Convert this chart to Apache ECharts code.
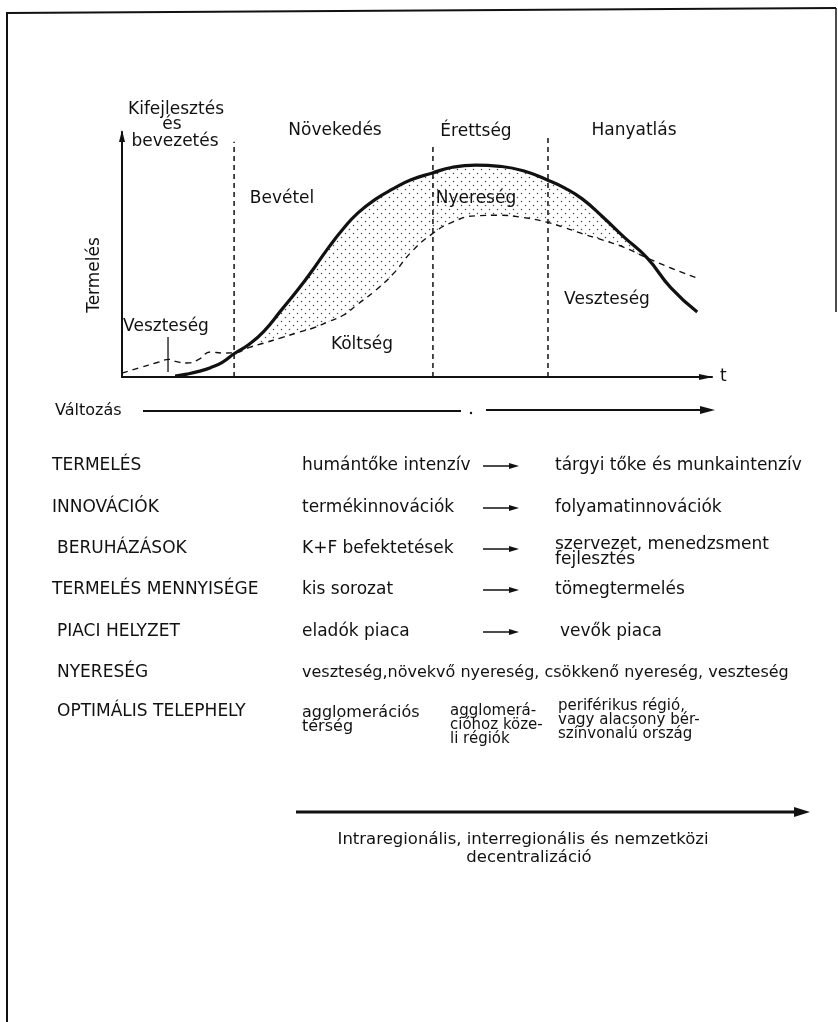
<!DOCTYPE html>
<html><head><meta charset="utf-8">
<script src="https://cdn.jsdelivr.net/npm/echarts@6/dist/echarts.min.js"></script>
<style>html,body{margin:0;padding:0;background:#fff}#c{width:838px;height:1022px}</style>
</head><body><div id="c"></div>
<script>
// ---- data (time in % of life cycle, values in % of chart height) ----
const timeX   = [0, 3, 6, 8, 9, 11, 13, 15, 17, 19, 21.5, 24, 27, 30, 32.5, 35, 37.5, 40, 43, 46, 49, 52.5, 56, 60, 64, 68, 72, 75, 78, 81.5, 85, 89, 93, 97.5];
const revenue = [null, null, null, null, 0.4, 1.2, 2.3, 3.8, 6.0, 9.5, 13.3, 18.5, 27.3, 36.2, 44.3, 52.8, 60.5, 67.0, 72.6, 76.9, 80.5, 83.2, 85.6, 86.5, 86.0, 84.2, 80.5, 77.2, 72.7, 65.3, 57.3, 48.6, 36.5, 26.5];
const cost    = [1.6, 3.8, 5.9, 7.2, 6.4, 5.7, 7.2, 10.2, 9.8, 9.9, 12.0, 13.8, 16.0, 18.3, 20.1, 22.6, 25.2, 29.8, 35.4, 42.2, 50.9, 58.3, 63.2, 65.8, 66.0, 65.1, 63.2, 61.0, 58.5, 55.9, 53.0, 48.6, 44.5, 40.4];
const phaseBounds = [19.0, 52.7, 72.2];
const phaseTops   = [96, 95.5, 98];
const lossTick    = [7.8, 2, 16.3];
const profitSpan  = [17, 93];   // time range handed to the dotted profit band

const phaseNames = ['Kifejlesztés\nés\nbevezetés', 'Növekedés', 'Érettség', 'Hanyatlás'];
const curveLabels = ['Bevétel', 'Nyereség', 'Költség', 'Veszteség', 'Veszteség'];
const yName = 'Termelés';
const xName = 't';
const changeLabel = 'Változás';

const rowLabels = ['TERMELÉS', 'INNOVÁCIÓK', 'BERUHÁZÁSOK', 'TERMELÉS MENNYISÉGE', 'PIACI HELYZET', 'NYERESÉG', 'OPTIMÁLIS TELEPHELY'];
const fromTexts = ['humántőke intenzív', 'termékinnovációk', 'K+F befektetések', 'kis sorozat', 'eladók piaca', 'veszteség,növekvő nyereség, csökkenő nyereség, veszteség', 'agglomerációs\ntérség'];
const toTexts   = ['tárgyi tőke és munkaintenzív', 'folyamatinnovációk', 'szervezet, menedzsment\nfejlesztés', 'tömegtermelés', 'vevők piaca', '', 'periférikus régió,\nvagy alacsony bér-\nszínvonalú ország'];
const midTexts  = ['', '', '', '', '', '', 'agglomerá-\ncióhoz köze-\nli régiók'];
const decentrText = 'Intraregionális, interregionális és nemzetközi\ndecentralizáció';

// ---- rendering ----
const INK = '#111';
const FONT = '"DejaVu Sans", sans-serif';

const pat = document.createElement('canvas');
pat.width = 8; pat.height = 8;
(function () {
  const c = pat.getContext('2d');
  c.fillStyle = '#fff'; c.fillRect(0, 0, 8, 8);
  c.fillStyle = '#444';
  c.beginPath(); c.arc(1.5, 1.5, 0.75, 0, Math.PI * 2); c.fill();
  c.beginPath(); c.arc(5.5, 5.5, 0.75, 0, Math.PI * 2); c.fill();
})();

function T(x, y, text, size, align, extra) {
  const lines = text.split('\n');
  const lh = (extra && extra.lh) || 15;
  return lines.map((ln, i) => Object.assign({
    type: 'text', x: x, y: y + i * lh, silent: true, z: 100,
    style: { text: ln, font: (size || 17) + 'px ' + FONT, fill: INK,
      align: align || 'left', verticalAlign: 'middle',
      textAlign: align || 'left', textVerticalAlign: 'middle' }
  }, extra && extra.el ? extra.el : {}));
}
function L(x1, y1, x2, y2, w) {
  return { type: 'line', silent: true, z: 100, shape: { x1, y1, x2, y2 }, style: { stroke: INK, lineWidth: w || 2 } };
}
function head(xTip, y, len, half) {
  return { type: 'polygon', silent: true, z: 100, shape: { points: [[xTip - len, y - half], [xTip, y], [xTip - len, y + half]] }, style: { fill: INK } };
}

let g = [];
// frame
g.push(L(7, 13, 836, 8, 2), L(7, 12, 7, 1022, 2), L(836, 8, 836, 312, 1.5));
// phase names
const pn = phaseNames[0].split('\n');
g = g.concat(T(176, 110, pn[0], 17, 'center'));
g = g.concat(T(172, 125, pn[1], 17, 'center'));
g = g.concat(T(175, 142, pn[2], 17, 'center'));
g = g.concat(T(335, 131, phaseNames[1], 17, 'center'));
g = g.concat(T(476, 132, phaseNames[2], 17, 'center'));
g = g.concat(T(634, 131, phaseNames[3], 17, 'center'));
// curve labels
g = g.concat(T(282, 199, curveLabels[0], 17, 'center'));
g = g.concat(T(476, 199, curveLabels[1], 17, 'center'));
g = g.concat(T(362, 345, curveLabels[2], 17, 'center'));
g = g.concat(T(607, 300, curveLabels[3], 17, 'center'));
g = g.concat(T(166, 327, curveLabels[4], 17, 'center'));
// y name (rotated)
g = g.concat(T(95, 275, yName, 17, 'center', { el: { rotation: Math.PI / 2 } }));
// Változás arrow
g = g.concat(T(55, 411, changeLabel, 16, 'left'));
g.push(L(143, 411, 461, 411, 2), L(486, 410, 704, 410, 2), head(715, 410, 15, 4));
g.push({ type: 'circle', silent: true, z: 100, shape: { cx: 471, cy: 413, r: 1.2 }, style: { fill: INK } });
// table
const rowY = [466, 508, 549, 590, 632, 673, 712];
const rowX = [52, 52, 57, 52, 57, 57, 57];
const colMid = 302;
rowLabels.forEach((s, i) => {
  g = g.concat(T(rowX[i], rowY[i], s, 17, 'left'));
  if (i < 5) g = g.concat(T(colMid, rowY[i], fromTexts[i], 17, 'left'));
  if (i === 5) g = g.concat(T(colMid, rowY[i], fromTexts[i], 16, 'left'));
  if (toTexts[i] && i < 5) {
    const y0 = toTexts[i].indexOf('\n') >= 0 ? rowY[i] - 4 : rowY[i];
    g = g.concat(T(i === 4 ? 560 : 555, y0, toTexts[i], 17, 'left', { lh: 15 }));
    g.push(L(483, rowY[i], 510, rowY[i], 1.5), head(519, rowY[i], 10, 3));
  }
});
g = g.concat(T(colMid, 713, fromTexts[6], 16, 'left', { lh: 14 }));
g = g.concat(T(450, 711, midTexts[6], 15, 'left', { lh: 14 }));
g = g.concat(T(558, 706, toTexts[6], 15, 'left', { lh: 14 }));
// decentralisation arrow
g.push(L(296, 812, 798, 812, 3), head(810, 812, 16, 5));
const dl = decentrText.split('\n');
g = g.concat(T(523, 840, dl[0], 16.5, 'center'));
g = g.concat(T(529, 858, dl[1], 16.5, 'center'));

const revPts = timeX.map((x, i) => [x, revenue[i]]).filter(p => p[1] != null);
const bandPts = revPts.filter(p => p[0] >= profitSpan[0] && p[0] <= profitSpan[1]);
const costPts = timeX.map((x, i) => [x, cost[i]]);
const SM = 0.5;
const series = [
  // dotted area under revenue (profit band once masked)
  { type: 'line', name: 'Nyereség', smooth: SM, symbol: 'none', silent: true, z: 1,
    data: bandPts, lineStyle: { width: 0, opacity: 0 },
    areaStyle: { color: { image: pat, repeat: 'repeat' }, opacity: 1 } },
  // white area under cost masks everything except the profit band
  { type: 'line', name: 'mask', smooth: SM, symbol: 'none', silent: true, z: 2,
    data: costPts, lineStyle: { width: 0, opacity: 0 },
    areaStyle: { color: '#fff', opacity: 1 } },
  { type: 'line', name: 'Költség', smooth: SM, symbol: 'none', silent: true, z: 3,
    data: costPts, lineStyle: { color: INK, width: 1.4, type: [6, 5] } },
  { type: 'line', name: 'Bevétel', smooth: SM, symbol: 'none', silent: true, z: 4,
    data: revPts, lineStyle: { color: INK, width: 3.2 } },
  { type: 'line', name: 'tick', symbol: 'none', silent: true, z: 3,
    data: [[lossTick[0], lossTick[1]], [lossTick[0], lossTick[2]]],
    lineStyle: { color: INK, width: 1.3 } }
];
phaseBounds.forEach((x, i) => series.push({
  type: 'line', name: 'phase' + i, symbol: 'none', silent: true, z: 3,
  data: [[x, 0], [x, phaseTops[i]]],
  lineStyle: { color: INK, width: 1.5, type: [5, 4] }
}));

const chart = echarts.init(document.getElementById('c'), null, { renderer: 'canvas' });
chart.setOption({
  animation: false,
  backgroundColor: '#fff',
  grid: { left: 122, top: 132, width: 590, height: 245, containLabel: false },
  xAxis: {
    type: 'value', min: 0, max: 100, z: 10,
    name: xName, nameLocation: 'end', nameGap: 8,
    nameTextStyle: { fontFamily: 'DejaVu Sans', fontSize: 17, color: INK, verticalAlign: 'middle' },
    axisLine: { show: true, onZero: false, symbol: ['none', 'triangle'], symbolSize: [6, 14], symbolOffset: [0, -6],
      lineStyle: { color: INK, width: 2 } },
    axisTick: { show: false }, axisLabel: { show: false }, splitLine: { show: false }
  },
  yAxis: {
    type: 'value', min: 0, max: 100, z: 10,
    axisLine: { show: true, onZero: false, symbol: ['none', 'triangle'], symbolSize: [6, 12], symbolOffset: [0, -4],
      lineStyle: { color: INK, width: 2 } },
    axisTick: { show: false }, axisLabel: { show: false }, splitLine: { show: false }
  },
  series: series,
  graphic: { elements: g }
});
</script>
</body></html>
